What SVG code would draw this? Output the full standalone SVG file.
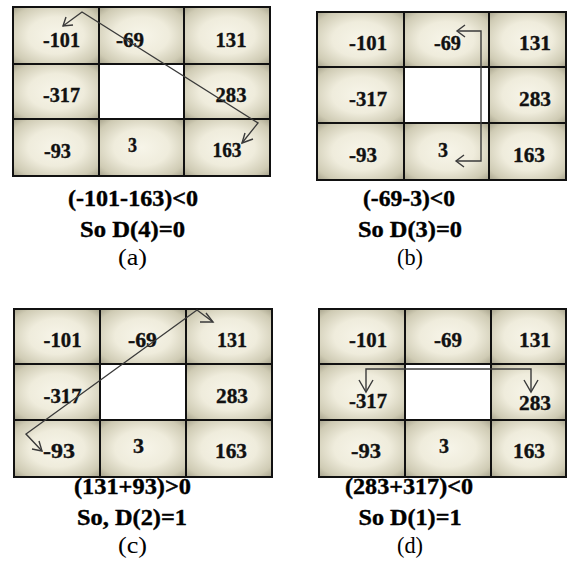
<svg xmlns="http://www.w3.org/2000/svg" width="568" height="569" viewBox="0 0 568 569">
  <defs>
    <radialGradient id="cellShade" cx="0.5" cy="0.5" r="0.72">
      <stop offset="0" stop-color="#f7f5e9"/>
      <stop offset="0.45" stop-color="#efecdc"/>
      <stop offset="0.8" stop-color="#cfcbb4"/>
      <stop offset="1" stop-color="#a29e87"/>
    </radialGradient>
  </defs>
  <style>
    .cell { fill: url(#cellShade); stroke: #111; stroke-width: 2; }
    .hole { fill: #ffffff; stroke: #111; stroke-width: 2; }
    text { font-family: 'Liberation Serif', 'Times New Roman', Tinos, serif; text-anchor: middle; fill: #111; }
    .val { font-weight: bold; font-size: 20px; stroke: #111; stroke-width: 0.35; }
    .cap { font-weight: bold; font-size: 24px; fill: #000; stroke: #000; stroke-width: 0.4; }
    .lbl { font-weight: normal; font-size: 23px; fill: #000; }
    .link { fill: none; stroke: #3a3a3a; stroke-width: 1.4; stroke-linejoin: miter; }
  </style>

  <!-- Panel (a) -->
  <g id="panel-a">
    <g id="a-r1c1"><rect class="cell" x="13" y="7" width="86" height="57"/><text class="val" x="61.5" y="47" textLength="37" lengthAdjust="spacingAndGlyphs">-101</text></g>
    <g id="a-r1c2"><rect class="cell" x="99" y="7" width="85" height="57"/><text class="val" x="130" y="47" textLength="28" lengthAdjust="spacingAndGlyphs">-69</text></g>
    <g id="a-r1c3"><rect class="cell" x="184" y="7" width="86" height="57"/><text class="val" x="231" y="47" textLength="31" lengthAdjust="spacingAndGlyphs">131</text></g>
    <g id="a-r2c1"><rect class="cell" x="13" y="64" width="86" height="55"/><text class="val" x="61.5" y="102" textLength="37" lengthAdjust="spacingAndGlyphs">-317</text></g>
    <g id="a-r2c2"><rect class="hole" x="99" y="64" width="85" height="55"/></g>
    <g id="a-r2c3"><rect class="cell" x="184" y="64" width="86" height="55"/><text class="val" x="231" y="102" textLength="31" lengthAdjust="spacingAndGlyphs">283</text></g>
    <g id="a-r3c1"><rect class="cell" x="13" y="119" width="86" height="57"/><text class="val" x="57.5" y="158" textLength="27" lengthAdjust="spacingAndGlyphs">-93</text></g>
    <g id="a-r3c2"><rect class="cell" x="99" y="119" width="85" height="57"/><text class="val" x="132.5" y="152" textLength="9" lengthAdjust="spacingAndGlyphs">3</text></g>
    <g id="a-r3c3"><rect class="cell" x="184" y="119" width="86" height="57"/><text class="val" x="227" y="157" textLength="29" lengthAdjust="spacingAndGlyphs">163</text></g>
    <text class="cap" x="133" y="206" textLength="130" lengthAdjust="spacingAndGlyphs">(-101-163)&lt;0</text>
    <text class="cap" x="132.5" y="237" textLength="105" lengthAdjust="spacingAndGlyphs">So D(4)=0</text>
    <text class="lbl" x="132.5" y="265" textLength="29" lengthAdjust="spacingAndGlyphs">(a)</text>
  </g>

  <!-- Panel (b) -->
  <g id="panel-b">
    <g id="b-r1c1"><rect class="cell" x="317" y="12" width="87" height="55"/><text class="val" x="368" y="50" textLength="38" lengthAdjust="spacingAndGlyphs">-101</text></g>
    <g id="b-r1c2"><rect class="cell" x="404" y="12" width="85" height="55"/><text class="val" x="447.5" y="50" textLength="27" lengthAdjust="spacingAndGlyphs">-69</text></g>
    <g id="b-r1c3"><rect class="cell" x="489" y="12" width="77" height="55"/><text class="val" x="535" y="50" textLength="32" lengthAdjust="spacingAndGlyphs">131</text></g>
    <g id="b-r2c1"><rect class="cell" x="317" y="67" width="87" height="56"/><text class="val" x="368" y="106" textLength="38" lengthAdjust="spacingAndGlyphs">-317</text></g>
    <g id="b-r2c2"><rect class="hole" x="404" y="67" width="85" height="56"/></g>
    <g id="b-r2c3"><rect class="cell" x="489" y="67" width="77" height="56"/><text class="val" x="535" y="106" textLength="32" lengthAdjust="spacingAndGlyphs">283</text></g>
    <g id="b-r3c1"><rect class="cell" x="317" y="123" width="87" height="57"/><text class="val" x="363" y="162" textLength="28" lengthAdjust="spacingAndGlyphs">-93</text></g>
    <g id="b-r3c2"><rect class="cell" x="404" y="123" width="85" height="57"/><text class="val" x="443" y="157" textLength="10" lengthAdjust="spacingAndGlyphs">3</text></g>
    <g id="b-r3c3"><rect class="cell" x="489" y="123" width="77" height="57"/><text class="val" x="529" y="162" textLength="32" lengthAdjust="spacingAndGlyphs">163</text></g>
    <text class="cap" x="409" y="206" textLength="92" lengthAdjust="spacingAndGlyphs">(-69-3)&lt;0</text>
    <text class="cap" x="410" y="237" textLength="104" lengthAdjust="spacingAndGlyphs">So D(3)=0</text>
    <text class="lbl" x="410" y="265" textLength="26" lengthAdjust="spacingAndGlyphs">(b)</text>
  </g>

  <!-- Panel (c) -->
  <g id="panel-c">
    <g id="c-r1c1"><rect class="cell" x="14" y="309" width="86" height="55"/><text class="val" x="62.5" y="347" textLength="38" lengthAdjust="spacingAndGlyphs">-101</text></g>
    <g id="c-r1c2"><rect class="cell" x="100" y="309" width="86" height="55"/><text class="val" x="142.5" y="347" textLength="29" lengthAdjust="spacingAndGlyphs">-69</text></g>
    <g id="c-r1c3"><rect class="cell" x="186" y="309" width="86" height="55"/><text class="val" x="232" y="347" textLength="30" lengthAdjust="spacingAndGlyphs">131</text></g>
    <g id="c-r2c1"><rect class="cell" x="14" y="364" width="86" height="56"/><text class="val" x="62.5" y="403" textLength="38" lengthAdjust="spacingAndGlyphs">-317</text></g>
    <g id="c-r2c2"><rect class="hole" x="100" y="364" width="86" height="56"/></g>
    <g id="c-r2c3"><rect class="cell" x="186" y="364" width="86" height="56"/><text class="val" x="232" y="403" textLength="32" lengthAdjust="spacingAndGlyphs">283</text></g>
    <g id="c-r3c1"><rect class="cell" x="14" y="420" width="86" height="57"/><text class="val" x="59" y="458" textLength="32" lengthAdjust="spacingAndGlyphs">-93</text></g>
    <g id="c-r3c2"><rect class="cell" x="100" y="420" width="86" height="57"/><text class="val" x="138.5" y="453" textLength="11" lengthAdjust="spacingAndGlyphs">3</text></g>
    <g id="c-r3c3"><rect class="cell" x="186" y="420" width="86" height="57"/><text class="val" x="231" y="458" textLength="32" lengthAdjust="spacingAndGlyphs">163</text></g>
    <text class="cap" x="132.5" y="494" textLength="117" lengthAdjust="spacingAndGlyphs">(131+93)&gt;0</text>
    <text class="cap" x="132" y="525" textLength="110" lengthAdjust="spacingAndGlyphs">So, D(2)=1</text>
    <text class="lbl" x="132.5" y="553" textLength="29" lengthAdjust="spacingAndGlyphs">(c)</text>
  </g>

  <!-- Panel (d) -->
  <g id="panel-d">
    <g id="d-r1c1"><rect class="cell" x="319" y="309" width="86" height="55"/><text class="val" x="368" y="347" textLength="38" lengthAdjust="spacingAndGlyphs">-101</text></g>
    <g id="d-r1c2"><rect class="cell" x="405" y="309" width="86" height="55"/><text class="val" x="448" y="347" textLength="28" lengthAdjust="spacingAndGlyphs">-69</text></g>
    <g id="d-r1c3"><rect class="cell" x="491" y="309" width="75" height="55"/><text class="val" x="535" y="347" textLength="32" lengthAdjust="spacingAndGlyphs">131</text></g>
    <g id="d-r2c1"><rect class="cell" x="319" y="364" width="86" height="56"/><text class="val" x="368" y="408" textLength="38" lengthAdjust="spacingAndGlyphs">-317</text></g>
    <g id="d-r2c2"><rect class="hole" x="405" y="364" width="86" height="56"/></g>
    <g id="d-r2c3"><rect class="cell" x="491" y="364" width="75" height="56"/><text class="val" x="535" y="410" textLength="32" lengthAdjust="spacingAndGlyphs">283</text></g>
    <g id="d-r3c1"><rect class="cell" x="319" y="420" width="86" height="57"/><text class="val" x="366" y="458" textLength="30" lengthAdjust="spacingAndGlyphs">-93</text></g>
    <g id="d-r3c2"><rect class="cell" x="405" y="420" width="86" height="57"/><text class="val" x="444" y="453" textLength="10" lengthAdjust="spacingAndGlyphs">3</text></g>
    <g id="d-r3c3"><rect class="cell" x="491" y="420" width="75" height="57"/><text class="val" x="529" y="458" textLength="32" lengthAdjust="spacingAndGlyphs">163</text></g>
    <text class="cap" x="409" y="494" textLength="128" lengthAdjust="spacingAndGlyphs">(283+317)&lt;0</text>
    <text class="cap" x="410" y="525" textLength="103" lengthAdjust="spacingAndGlyphs">So D(1)=1</text>
    <text class="lbl" x="410" y="553" textLength="26" lengthAdjust="spacingAndGlyphs">(d)</text>
  </g>

  <!-- Connectors: comparison paths with open chevron heads -->
  <g id="connectors">
    <!-- (a) -101 to 163 diagonal -->
    <polyline class="link" points="63,26 82,12 258,123 242,143"/>
    <polyline class="link" points="66,17 63,26 73,25"/>
    <polyline class="link" points="245,133 242,143 253,139"/>
    <!-- (b) -69 to 3 vertical -->
    <polyline class="link" points="457,31 481,31 481,161 456,161"/>
    <polyline class="link" points="465,25 457,31 465,37"/>
    <polyline class="link" points="464,155 456,161 464,167"/>
    <!-- (c) -93 to 131 diagonal -->
    <polyline class="link" points="42,451 26,434 197,310 213,322"/>
    <polyline class="link" points="32,449 42,451 39,441"/>
    <polyline class="link" points="200,322 213,322 206,313"/>
    <!-- (d) -317 to 283 bracket -->
    <polyline class="link" points="366,392 366,369 531,369 531,392"/>
    <polyline class="link" points="359,380 366,392 373,380"/>
    <polyline class="link" points="524,380 531,392 538,380"/>
  </g>
</svg>
